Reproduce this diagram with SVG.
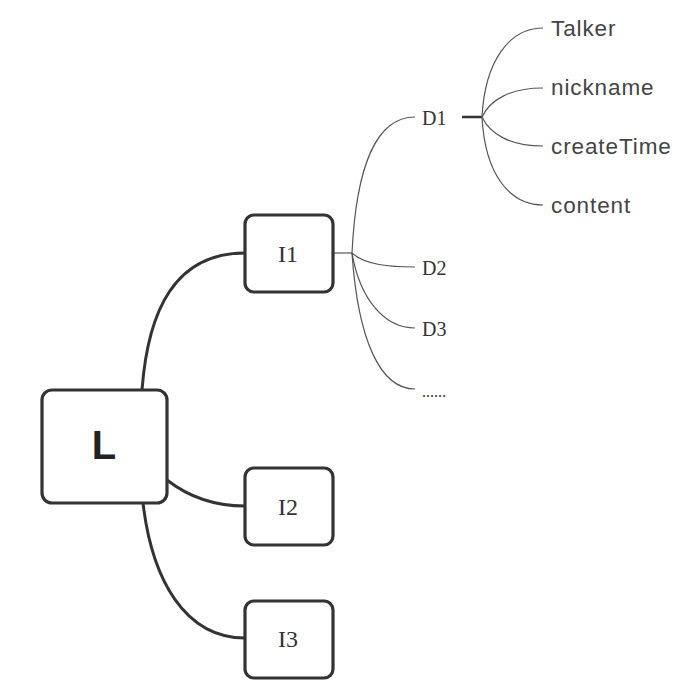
<svg xmlns="http://www.w3.org/2000/svg" width="686" height="692" viewBox="0 0 686 692">
<style>
.box{fill:#fff;stroke:#333;stroke-width:3.2}
.thick{fill:none;stroke:#333;stroke-width:3}
.thin{fill:none;stroke:#555;stroke-width:1.2}
.serif{font-family:"Liberation Serif","Times New Roman",serif;fill:#333}
.sans{font-family:"Liberation Sans",Arial,sans-serif;fill:#444;font-size:22.5px;letter-spacing:0.9px}
</style>
<rect width="686" height="692" fill="#fff"/>
<g id="connectors">
<path class="thick" d="M142,390 C148,310 175,253 245,253"/>
<path class="thick" d="M167,480 C190,498 215,506 245,506"/>
<path class="thick" d="M143,503 C152,580 185,638 245,638"/>
<path class="thin" d="M334,253 L352,253"/>
<path class="thin" d="M352,253 C356,170 375,117 415,117"/>
<path class="thin" d="M352,253 C365,265 390,267 415,267"/>
<path class="thin" d="M352,253 C360,300 385,328 415,328"/>
<path class="thin" d="M352,253 C358,340 380,389 415,389"/>
<path fill="none" stroke="#333" stroke-width="2.5" d="M462,117 L482,117"/>
<path class="thin" d="M482,117 C485,60 510,28 543,28"/>
<path class="thin" d="M482,117 C490,100 510,88 543,88"/>
<path class="thin" d="M482,117 C490,134 510,146 543,146"/>
<path class="thin" d="M482,117 C485,175 510,205 543,205"/>
</g>
<g id="L">
<rect class="box" x="42" y="390" width="125" height="113" rx="10"/>
<text x="104" y="459" text-anchor="middle" font-family="Liberation Sans,Arial,sans-serif" font-weight="bold" font-size="40" fill="#222">L</text>
</g>
<g id="I1">
<rect class="box" x="245" y="215" width="88" height="77" rx="9"/>
<text class="serif" x="288" y="262" text-anchor="middle" font-size="24">I1</text>
</g>
<g id="I2">
<rect class="box" x="245" y="468" width="88" height="77" rx="9"/>
<text class="serif" x="288" y="515" text-anchor="middle" font-size="24">I2</text>
</g>
<g id="I3">
<rect class="box" x="245" y="601" width="88" height="77" rx="9"/>
<text class="serif" x="288" y="647" text-anchor="middle" font-size="24">I3</text>
</g>
<g id="D1"><text class="serif" x="422" y="125" font-size="20">D1</text></g>
<g id="D2"><text class="serif" x="422" y="275" font-size="20">D2</text></g>
<g id="D3"><text class="serif" x="422" y="336" font-size="20">D3</text></g>
<g id="more"><text class="serif" x="422" y="397" font-size="16" fill="#777">......</text></g>
<g id="Talker"><text class="sans" x="551" y="36">Talker</text></g>
<g id="nickname"><text class="sans" x="551" y="95">nickname</text></g>
<g id="createTime"><text class="sans" x="551" y="154">createTime</text></g>
<g id="content"><text class="sans" x="551" y="213">content</text></g>
</svg>
